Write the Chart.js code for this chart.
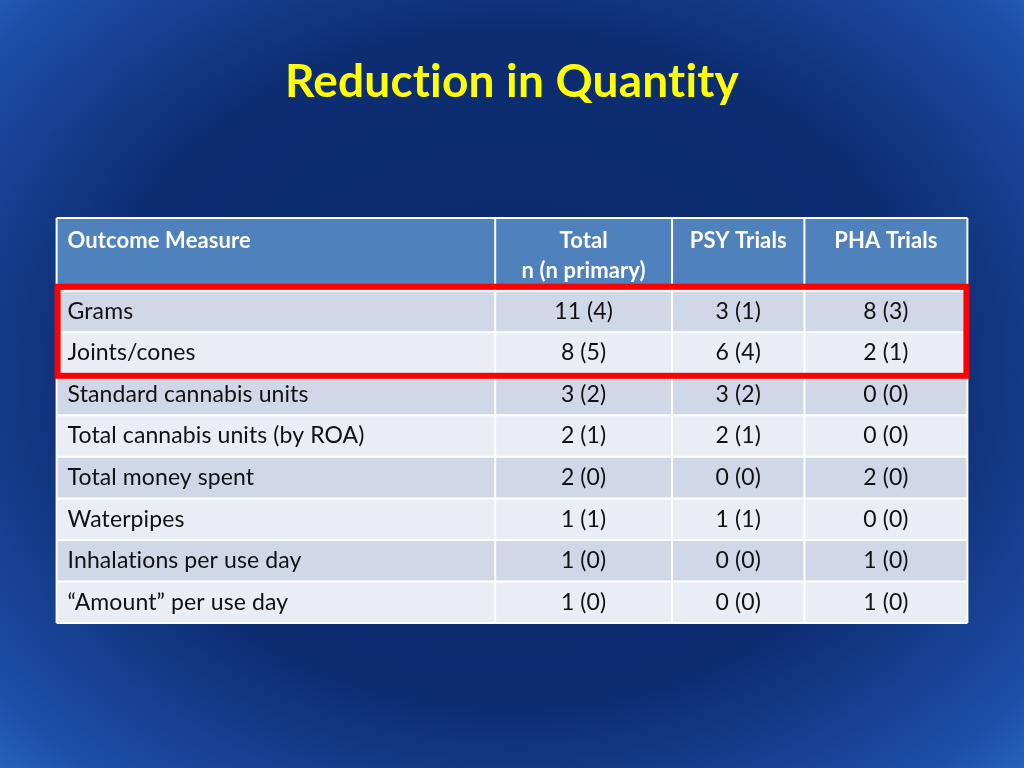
<!DOCTYPE html>
<html><head><meta charset="utf-8">
<script src="https://cdn.jsdelivr.net/npm/chart.js@4"></script>
<style>
html,body{margin:0;padding:0;width:1024px;height:768px;overflow:hidden;
background:radial-gradient(ellipse 75% 80% at 50% 48%, #0c2a6c 0%, #0d2d72 55%, #1d4fa8 85%, #3070d0 100%);}
#wrap{position:absolute;left:0;top:0;width:1024px;height:768px;}
</style></head><body>
<div id="wrap"><canvas id="c" width="1024" height="768"></canvas></div>
<script>
const title = "Reduction in Quantity";
const headers = ["Outcome Measure", "Total\nn (n primary)", "PSY Trials", "PHA Trials"];
const measures = ["Grams","Joints/cones","Standard cannabis units","Total cannabis units (by ROA)","Total money spent","Waterpipes","Inhalations per use day","\u201cAmount\u201d per use day"];
const totalCol = ["11 (4)","8 (5)","3 (2)","2 (1)","2 (0)","1 (1)","1 (0)","1 (0)"];
const psyCol = ["3 (1)","6 (4)","3 (2)","2 (1)","0 (0)","1 (1)","0 (0)","0 (0)"];
const phaCol = ["8 (3)","2 (1)","0 (0)","0 (0)","2 (0)","0 (0)","1 (0)","1 (0)"];
const colEdges = [0, 444, 623, 757, 922];
const headerHeight = 1.75;
const highlightRows = [0, 1];

const tablePlugin = {
  id: 'table',
  beforeDatasetsDraw(chart) {
    const ctx = chart.ctx, x = chart.scales.x, y = chart.scales.y;
    const px = v => x.getPixelForValue(v), py = v => y.getPixelForValue(v);
    ctx.save();
    ctx.letterSpacing = '0.2px';
    ctx.fillStyle = '#ffff00';
    ctx.font = 'bold 46px Lato, "Open Sans", sans-serif';
    ctx.textAlign = 'center'; ctx.textBaseline = 'middle';
    ctx.fillText(title, 512, 82);
    ctx.letterSpacing = '0.1px';
    for (let c = 0; c < 4; c++) {
      const x0 = px(colEdges[c]), x1 = px(colEdges[c+1]);
      ctx.fillStyle = '#4f81bd';
      ctx.fillRect(x0, py(0), x1 - x0, py(headerHeight) - py(0));
      ctx.fillStyle = '#ffffff';
      ctx.font = 'bold 22px Lato, "Open Sans", sans-serif';
      const lines = headers[c].split('\n');
      lines.forEach((t, i) => {
        const yy = py(0) + 23 + i * 30;
        if (c === 0) { ctx.textAlign = 'left'; ctx.fillText(t, x0 + 11, yy); }
        else { ctx.textAlign = 'center'; ctx.fillText(t, (x0 + x1) / 2, yy); }
      });
    }
    const cols = [measures, totalCol, psyCol, phaCol];
    for (let r = 0; r < measures.length; r++) {
      const y0 = py(headerHeight + r), y1 = py(headerHeight + r + 1);
      for (let c = 0; c < 4; c++) {
        const x0 = px(colEdges[c]), x1 = px(colEdges[c+1]);
        ctx.fillStyle = r % 2 === 0 ? '#d0d8e8' : '#e9edf4';
        ctx.fillRect(x0, y0, x1 - x0, y1 - y0);
        ctx.fillStyle = '#111111';
        ctx.font = '23px Lato, "Open Sans", sans-serif';
        const yy = (y0 + y1) / 2;
        if (c === 0) { ctx.textAlign = 'left'; ctx.fillText(cols[c][r], x0 + 11, yy); }
        else { ctx.textAlign = 'center'; ctx.fillText(cols[c][r], (x0 + x1) / 2, yy); }
      }
    }
    ctx.strokeStyle = '#ffffff'; ctx.lineWidth = 2;
    for (let c = 0; c <= 4; c++) {
      ctx.beginPath(); ctx.moveTo(px(colEdges[c]), py(0)); ctx.lineTo(px(colEdges[c]), py(headerHeight + measures.length)); ctx.stroke();
    }
    for (let r = 0; r <= measures.length; r++) {
      ctx.beginPath(); ctx.moveTo(px(0), py(headerHeight + r)); ctx.lineTo(px(922), py(headerHeight + r)); ctx.stroke();
    }
    ctx.beginPath(); ctx.moveTo(px(0), py(0)); ctx.lineTo(px(922), py(0)); ctx.stroke();
    ctx.strokeStyle = '#ff0000'; ctx.lineWidth = 6;
    const r0 = highlightRows[0], r1 = highlightRows[highlightRows.length - 1];
    const top = py(headerHeight + r0) - 4, bot = py(headerHeight + r1 + 1) + 2;
    ctx.strokeRect(px(0) + 1, top, px(922) - px(0) - 2, bot - top);
    ctx.restore();
  }
};

new Chart(document.getElementById('c'), {
  type: 'bar',
  data: { labels: [], datasets: [] },
  options: {
    responsive: false, animation: false,
    layout: { padding: { left: 6, right: 6, top: 218, bottom: 145 } },
    plugins: { legend: { display: false }, tooltip: { enabled: false } },
    scales: {
      x: { type: 'linear', min: 0, max: 922, display: false },
      y: { type: 'linear', min: 0, max: headerHeight + measures.length, reverse: true, display: false }
    }
  },
  plugins: [tablePlugin]
});
</script>
</body></html>
